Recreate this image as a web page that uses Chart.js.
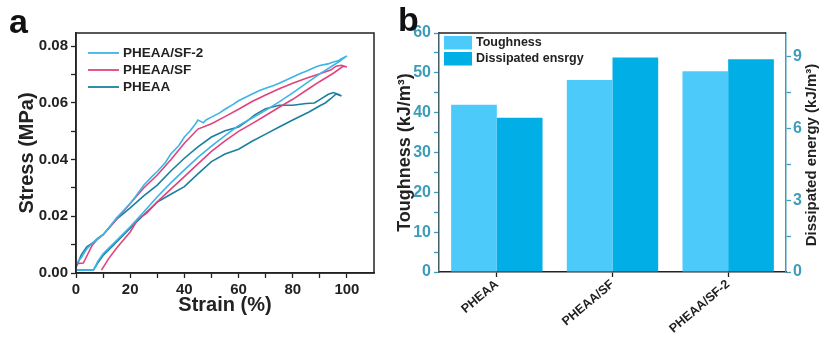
<!DOCTYPE html>
<html>
<head>
<meta charset="utf-8">
<script src="https://cdn.jsdelivr.net/npm/chart.js@4.4.1/dist/chart.umd.min.js"></script>
<style>
  body { margin: 0; background: #fff; }
  #wrap { position: relative; width: 821px; height: 338px; }
  canvas { position: absolute; top: 0; }
  #stressChart { left: 0; }
  #energyChart { left: 390px; }
</style>
</head>
<body>
<div id="wrap">
  <canvas id="stressChart" width="390" height="338"></canvas>
  <canvas id="energyChart" width="431" height="338"></canvas>
</div>
<script>
// panel a: loading then unloading, strain (%) / stress (MPa)
const strainSF2 = [0, 2, 4, 6, 8, 10, 13, 15, 18, 20, 22, 25, 28, 30, 33, 35, 38, 40, 42, 44, 45, 46, 47, 48, 50, 53, 55, 58, 60, 63, 65, 68, 70, 73, 75, 78, 80, 83, 85, 88, 90, 93, 95, 97, 98, 100,
  97, 95, 90, 86, 80, 75, 70, 65, 60, 55, 50, 45, 40, 35, 30, 25, 20, 15, 10, 8, 6.4, 3, 0];
const stressSF2 = [0.0033, 0.0055, 0.0085, 0.0105, 0.012, 0.0135, 0.017, 0.0195, 0.0225, 0.0245, 0.027, 0.031, 0.034, 0.0358, 0.039, 0.042, 0.045, 0.048, 0.050, 0.0525, 0.054, 0.0535, 0.053, 0.054, 0.055, 0.0565, 0.0578, 0.0595, 0.0608, 0.0622, 0.0632, 0.0645, 0.0652, 0.0662, 0.067, 0.0683, 0.0692, 0.0705, 0.0712, 0.0725, 0.0732, 0.0738, 0.0745, 0.075, 0.0756, 0.0766,
  0.0745, 0.0733, 0.0703, 0.0676, 0.0636, 0.0604, 0.0574, 0.0547, 0.052, 0.0485, 0.0448, 0.0408, 0.0364, 0.0318, 0.0269, 0.0215, 0.0163, 0.0115, 0.0068, 0.004, 0.001, 0.001, 0.001];

const strainSF = [0, 2.7, 4, 6, 8, 10, 15, 20, 25, 30, 35, 40, 45, 50, 55, 60, 65, 70, 75, 80, 85, 90, 94, 96, 98, 100,
  98.7, 95, 90, 86, 80, 75, 70, 65, 60, 55, 50, 45, 40, 35, 30, 26, 23, 20, 15, 12, 9.4];
const stressSF = [0.0033, 0.0035, 0.006, 0.0098, 0.012, 0.0135, 0.019, 0.0245, 0.030, 0.0346, 0.040, 0.0458, 0.0508, 0.0527, 0.0552, 0.0578, 0.0605, 0.0628, 0.065, 0.067, 0.0687, 0.0703, 0.0716, 0.073, 0.0733, 0.0727,
  0.073, 0.0705, 0.0676, 0.0651, 0.0613, 0.0585, 0.0556, 0.0527, 0.050, 0.0466, 0.0429, 0.0385, 0.034, 0.0296, 0.0251, 0.021, 0.0192, 0.0145, 0.0088, 0.005, 0.001];

const strainPHEAA = [0, 2, 4, 6, 8, 10, 15, 20, 25, 30, 35, 40, 45, 50, 55, 60, 63, 66, 70, 75, 80, 85, 88, 90, 93, 95, 97, 98,
  96, 94, 92, 90, 86, 80, 75, 70, 65, 60, 55, 50, 45, 40, 35, 30, 25, 20, 15, 10, 8, 6.4, 3, 0];
const stressPHEAA = [0.002, 0.0065, 0.0092, 0.0105, 0.0122, 0.0135, 0.019, 0.023, 0.0272, 0.031, 0.036, 0.0405, 0.0445, 0.048, 0.0502, 0.0515, 0.0535, 0.0558, 0.058, 0.0592, 0.0592, 0.0598, 0.060, 0.0612, 0.063, 0.0637, 0.063, 0.0625,
  0.0632, 0.0615, 0.060, 0.059, 0.0568, 0.054, 0.0515, 0.049, 0.0465, 0.0437, 0.042, 0.0393, 0.035, 0.0305, 0.0278, 0.025, 0.0205, 0.0158, 0.011, 0.0062, 0.0035, 0.001, 0.001, 0.001];

// tick positions (labels only on every other one)
const strainTicks = [0, 10, 20, 30, 40, 50, 60, 70, 80, 90, 100];
const stressTicks = [0, 0.01, 0.02, 0.03, 0.04, 0.05, 0.06, 0.07, 0.08];

// panel b
const samples = ["PHEAA", "PHEAA/SF", "PHEAA/SF-2"];
const toughness = [42, 48.2, 50.4];        // kJ/m3, left axis
const dissipated = [6.45, 8.97, 8.9];      // kJ/m3, right axis
const toughnessTicks = [0, 5, 10, 15, 20, 25, 30, 35, 40, 45, 50, 55, 60];
const energyTicks = [0, 1.5, 3, 4.5, 6, 7.5, 9];

const font = "'Liberation Sans', Arial, sans-serif";
const teal = "#3d9cba";

function toPoints(xs, ys) {
    let pts = [];
    for (let i = 0; i < xs.length; i++) {
        pts.push({ x: xs[i], y: ys[i] });
    }
    return pts;
}

function fixedTicks(values) {
    return s => { s.ticks = values.map(v => ({ value: v })); };
}

const stressExtras = {
    id: "stressExtras",
    afterDraw(chart) {
        let ctx = chart.ctx;
        let a = chart.chartArea;
        ctx.save();
        ctx.strokeStyle = "#222";
        ctx.lineWidth = 1.5;
        ctx.strokeRect(a.left, a.top, a.right - a.left, a.bottom - a.top);

        ctx.font = "bold 13.5px " + font;
        ctx.textBaseline = "middle";
        chart.data.datasets.forEach((ds, i) => {
            let y = 53 + i * 17;
            ctx.strokeStyle = ds.borderColor;
            ctx.lineWidth = 1.8;
            ctx.beginPath();
            ctx.moveTo(88, y);
            ctx.lineTo(119, y);
            ctx.stroke();
            ctx.fillStyle = "#222";
            ctx.fillText(ds.label, 123, y);
        });

        ctx.font = "bold 34px " + font;
        ctx.textBaseline = "alphabetic";
        ctx.fillStyle = "#111";
        ctx.fillText("a", 9, 33);
        ctx.restore();
    }
};

const energyExtras = {
    id: "energyExtras",
    afterDraw(chart) {
        let ctx = chart.ctx;
        let a = chart.chartArea;
        ctx.save();
        ctx.strokeStyle = "#222";
        ctx.lineWidth = 1.5;
        ctx.beginPath();
        ctx.moveTo(a.left, a.top);
        ctx.lineTo(a.right, a.top);
        ctx.stroke();

        ctx.font = "bold 12.5px " + font;
        ctx.textBaseline = "middle";
        chart.data.datasets.forEach((ds, i) => {
            let y = 36 + i * 16;
            ctx.fillStyle = ds.backgroundColor;
            ctx.fillRect(54, y, 28, 13.5);
            ctx.fillStyle = "#222";
            ctx.fillText(ds.label, 86, y + 7);
        });

        // right title reads bottom to top
        ctx.translate(421.5, 155);
        ctx.rotate(-Math.PI / 2);
        ctx.font = "bold 15px " + font;
        ctx.textAlign = "center";
        ctx.fillStyle = "#222";
        ctx.fillText("Dissipated energy (kJ/m³)", 0, 0);
        ctx.restore();

        ctx.save();
        ctx.font = "bold 34px " + font;
        ctx.fillStyle = "#111";
        ctx.fillText("b", 8, 31);
        ctx.restore();
    }
};

new Chart(document.getElementById("stressChart"), {
    type: "scatter",
    data: {
        datasets: [
            { label: "PHEAA/SF-2", data: toPoints(strainSF2, stressSF2), borderColor: "#3db4e6" },
            { label: "PHEAA/SF", data: toPoints(strainSF, stressSF), borderColor: "#e0437c" },
            { label: "PHEAA", data: toPoints(strainPHEAA, stressPHEAA), borderColor: "#1c7f9f" }
        ].map(ds => Object.assign(ds, { showLine: true, pointRadius: 0, borderWidth: 1.6, tension: 0 }))
    },
    options: {
        responsive: false,
        animation: false,
        layout: { padding: { top: 33, right: 16, left: 0, bottom: 0 } },
        plugins: { legend: { display: false }, tooltip: { enabled: false } },
        scales: {
            x: {
                type: "linear",
                min: 0,
                max: 110,
                afterFit: s => { s.height = 65; },
                afterBuildTicks: fixedTicks(strainTicks),
                ticks: {
                    padding: 3,
                    minRotation: 0,
                    maxRotation: 0,
                    autoSkip: false,
                    color: "#222",
                    font: { family: font, size: 15, weight: "bold" },
                    callback: v => (v % 20 === 0 ? v : "")
                },
                grid: { drawOnChartArea: false, tickLength: 5, tickColor: "#222", tickWidth: 1.3 },
                border: { color: "#222", width: 1.5 },
                title: {
                    display: true,
                    text: "Strain (%)",
                    color: "#222",
                    font: { family: font, size: 20, weight: "bold" },
                    padding: { top: 0, bottom: 21 }
                }
            },
            y: {
                min: 0,
                max: 0.0847,
                afterFit: s => { s.width = 76; },
                afterBuildTicks: fixedTicks(stressTicks),
                ticks: {
                    padding: 3,
                    autoSkip: false,
                    color: "#222",
                    font: { family: font, size: 15, weight: "bold" },
                    callback: v => (Math.round(v * 100) % 2 === 0 ? v.toFixed(2) : "")
                },
                grid: { drawOnChartArea: false, tickLength: 5, tickColor: "#222", tickWidth: 1.3 },
                border: { color: "#222", width: 1.5 },
                title: {
                    display: true,
                    text: "Stress (MPa)",
                    color: "#222",
                    font: { family: font, size: 20, weight: "bold" },
                    padding: { top: 15, bottom: 0 }
                }
            }
        }
    },
    plugins: [stressExtras]
});

new Chart(document.getElementById("energyChart"), {
    type: "bar",
    data: {
        labels: samples,
        datasets: [
            { label: "Toughness", data: toughness, backgroundColor: "#4ccbfa", yAxisID: "y" },
            { label: "Dissipated ensrgy", data: dissipated, backgroundColor: "#01aee6", yAxisID: "y1" }
        ]
    },
    options: {
        responsive: false,
        animation: false,
        categoryPercentage: 0.79,
        barPercentage: 1.0,
        layout: { padding: { top: 33, right: 0, left: 0, bottom: 0 } },
        plugins: { legend: { display: false }, tooltip: { enabled: false } },
        scales: {
            x: {
                afterFit: s => { s.height = 66; },
                ticks: {
                    minRotation: 40,
                    maxRotation: 40,
                    autoSkip: false,
                    padding: 0,
                    color: "#222",
                    font: { family: font, size: 12.5, weight: "bold" }
                },
                grid: { drawOnChartArea: false, offset: false, tickLength: 5, tickColor: "#222", tickWidth: 1.3 },
                border: { color: "#222", width: 1.5 }
            },
            y: {
                position: "left",
                min: 0,
                max: 60,
                afterFit: s => { s.width = 49; },
                afterBuildTicks: fixedTicks(toughnessTicks),
                ticks: {
                    padding: 3,
                    autoSkip: false,
                    color: teal,
                    font: { family: font, size: 16, weight: "bold" },
                    callback: v => (v % 10 === 0 ? v : "")
                },
                grid: { drawOnChartArea: false, tickLength: 5, tickColor: teal, tickWidth: 1.3 },
                border: { color: "#3f5f6a", width: 1.5 },
                title: {
                    display: true,
                    text: "Toughness (kJ/m³)",
                    color: "#222",
                    font: { family: font, size: 18, weight: "bold" },
                    padding: { top: 4, bottom: 0 }
                }
            },
            y1: {
                position: "right",
                min: 0,
                max: 10,
                afterFit: s => { s.width = 35; },
                afterBuildTicks: fixedTicks(energyTicks),
                ticks: {
                    padding: 2,
                    autoSkip: false,
                    color: teal,
                    font: { family: font, size: 16, weight: "bold" },
                    callback: v => (v % 3 === 0 ? v : "")
                },
                grid: { drawOnChartArea: false, tickLength: 5, tickColor: teal, tickWidth: 1.3 },
                border: { color: teal, width: 1.5 }
            }
        }
    },
    plugins: [energyExtras]
});
</script>
</body>
</html>
